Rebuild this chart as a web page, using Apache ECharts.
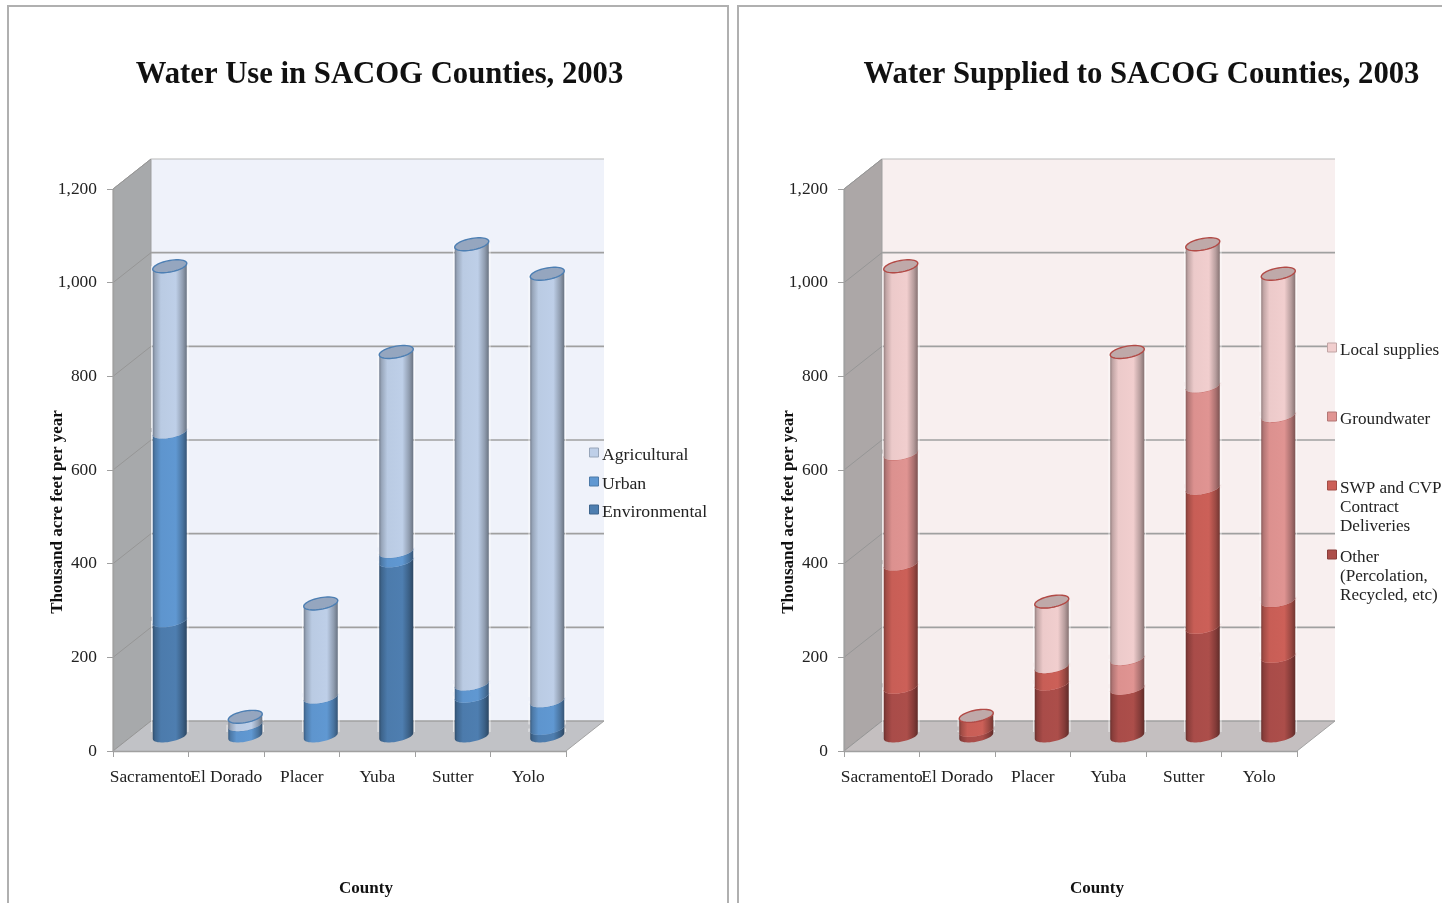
<!DOCTYPE html>
<html>
<head>
<meta charset="utf-8">
<style>html,body{margin:0;padding:0;background:#fff}#chart{width:1442px;height:903px}</style>
<script src="https://cdn.jsdelivr.net/npm/echarts@6/dist/echarts.min.js"></script>
</head>
<body>
<div id="chart"></div>
<script>
// County names and value axis ticks, in thousand acre feet per year
const counties = ['Sacramento', 'El Dorado', 'Placer', 'Yuba', 'Sutter', 'Yolo'];
const yTicks = [0, 200, 400, 600, 800, 1000, 1200];

// Water use by sector
const environmental = [246, 0, 0, 374, 85, 16];
const urban = [403, 24, 83, 20, 26, 59];
const agricultural = [354, 17, 200, 426, 939, 912];

// Water supply by source
const other = [104, 12, 111, 102, 232, 170];
const swpCvp = [263, 31, 37, 0, 297, 119];
const groundwater = [236, 0, 0, 63, 218, 395];
const localSupplies = [400, 0, 139, 655, 303, 303];

const useStack = [
  { name: 'Environmental', values: environmental, color: [78, 126, 176] },
  { name: 'Urban', values: urban, color: [96, 152, 210] },
  { name: 'Agricultural', values: agricultural, color: [190, 207, 232] }
];
const supplyStack = [
  { name: 'Other (Percolation, Recycled, etc)', values: other, color: [172, 78, 74] },
  { name: 'SWP and CVP Contract Deliveries', values: swpCvp, color: [204, 96, 88] },
  { name: 'Groundwater', values: groundwater, color: [224, 148, 146] },
  { name: 'Local supplies', values: localSupplies, color: [241, 206, 206] }
];

const SERIF = '"Liberation Serif", "DejaVu Serif", serif';
const DEPTH_X = 38, DEPTH_Y = 30;       // oblique offset of the back wall
const RX = 17, RY = 5.8, TILT = 0.17;   // cylinder ellipse shape

const shade = (c, f) => `rgb(${c.map(v => Math.round(v * f)).join(',')})`;

// Back wall, side wall, floor and the gridlines that wrap around them
function frameRenderer(wallColor, floorColor, sideColor) {
  return function (params, api) {
    const cs = params.coordSys;
    const v = api.value(1);
    const y = api.coord([0, v])[1];
    const x0 = cs.x, x1 = cs.x + cs.width;
    const bottom = cs.y + cs.height, top = cs.y;
    const isTopTick = v === yTicks[yTicks.length - 1];
    const children = [];
    if (params.dataIndex === 0) {
      children.push({ type: 'polygon', shape: { points: [[x0 + DEPTH_X, top - DEPTH_Y], [x1 + DEPTH_X, top - DEPTH_Y], [x1 + DEPTH_X, bottom - DEPTH_Y], [x0 + DEPTH_X, bottom - DEPTH_Y]] }, style: { fill: wallColor } });
      children.push({ type: 'polygon', shape: { points: [[x0, top], [x0 + DEPTH_X, top - DEPTH_Y], [x0 + DEPTH_X, bottom - DEPTH_Y], [x0, bottom]] }, style: { fill: sideColor, stroke: '#9f9f9f', lineWidth: 1 } });
      children.push({ type: 'polygon', shape: { points: [[x0, bottom], [x0 + DEPTH_X, bottom - DEPTH_Y], [x1 + DEPTH_X, bottom - DEPTH_Y], [x1, bottom]] }, style: { fill: floorColor } });
    }
    children.push({ type: 'line', shape: { x1: x0, y1: y, x2: x0 + DEPTH_X, y2: y - DEPTH_Y }, style: { stroke: '#969696', lineWidth: 1 } });
    children.push({ type: 'line', shape: { x1: x0 + DEPTH_X, y1: y - DEPTH_Y, x2: x1 + DEPTH_X, y2: y - DEPTH_Y }, style: { stroke: isTopTick ? '#b9b9b9' : '#a0a0a0', lineWidth: isTopTick ? 1 : 1.6 } });
    if (v === 0) {
      children.push({ type: 'line', shape: { x1: x1, y1: y, x2: x1 + DEPTH_X, y2: y - DEPTH_Y }, style: { stroke: '#a3a3a3', lineWidth: 1 } });
    }
    return { type: 'group', children };
  };
}

// A stacked segment of a cylinder standing mid-depth on the floor
function cylinderRenderer(color, capFill, edge) {
  const gradient = {
    type: 'linear', x: 0, y: 0, x2: 1, y2: 0,
    colorStops: [
      { offset: 0, color: shade(color, 0.62) },
      { offset: 0.07, color: shade(color, 0.8) },
      { offset: 0.24, color: shade(color, 0.98) },
      { offset: 0.68, color: shade(color, 1) },
      { offset: 0.88, color: shade(color, 0.76) },
      { offset: 1, color: shade(color, 0.56) }
    ]
  };
  const arc = (cx, cy, from, to, n) => {
    const pts = [];
    for (let i = 0; i <= n; i++) {
      const t = from + (to - from) * i / n;
      const dx = RX * Math.cos(t);
      pts.push([cx + dx, cy + RY * Math.sin(t) - TILT * dx]);
    }
    return pts;
  };
  return function (params, api) {
    const idx = api.value(0);
    const base = api.coord([idx, api.value(1)]);
    const head = api.coord([idx, api.value(2)]);
    const cx = base[0] + DEPTH_X / 2;
    const yb = base[1] - DEPTH_Y / 2, yt = head[1] - DEPTH_Y / 2;
    const body = arc(cx, yt, Math.PI, 0, 24).concat(arc(cx, yb, 0, Math.PI, 24));
    const halo = { stroke: 'rgba(255,255,255,0.6)', lineWidth: 1.2 };
    const haloFoot = Math.max(yb - 4, yt);
    const children = [
      { type: 'line', shape: { x1: cx - RX - 1.2, y1: haloFoot, x2: cx - RX - 1.2, y2: yt }, style: halo },
      { type: 'line', shape: { x1: cx + RX + 1.2, y1: haloFoot, x2: cx + RX + 1.2, y2: yt }, style: halo },
      { type: 'polygon', shape: { points: body }, style: { fill: gradient } },
      { type: 'polyline', shape: { points: arc(cx, yt, Math.PI, 0, 24) }, style: { fill: 'none', stroke: edge, lineWidth: 0.8, opacity: 0.6 } }
    ];
    if (api.value(3)) {
      children.push({ type: 'polygon', shape: { points: arc(cx, yt, 0, Math.PI * 2, 48) }, style: { fill: capFill, stroke: edge, lineWidth: 1.4 } });
    }
    return { type: 'group', children };
  };
}

// Turns one stack of value arrays into [category, start, end, isTopSegment] rows
function stackRows(stack) {
  return stack.map((layer, li) => layer.values.map((val, ci) => {
    const start = stack.slice(0, li).reduce((s, l) => s + l.values[ci], 0);
    const isTop = stack.slice(li + 1).every(l => l.values[ci] === 0);
    return [ci, start, start + val, isTop && val > 0 ? 1 : 0];
  }).filter(row => row[2] > row[1]));
}

const labelFont = { fontFamily: SERIF, color: '#222' };

function axisPair(gridIndex) {
  return {
    x: {
      type: 'category', gridIndex, data: counties, z: 3,
      axisLine: { lineStyle: { color: '#a0a0a0', width: 1.4 } },
      axisTick: { show: true, alignWithLabel: false, length: 6, lineStyle: { color: '#a0a0a0' } },
      axisLabel: Object.assign({ fontSize: 17.4, margin: 18, interval: 0, hideOverlap: false }, labelFont)
    },
    y: {
      type: 'value', gridIndex, min: 0, max: 1200, interval: 200, z: 3,
      splitLine: { show: false },
      axisLine: { show: true, lineStyle: { color: '#a0a0a0', width: 1.4 } },
      axisTick: { show: true, length: 6, lineStyle: { color: '#a0a0a0' } },
      axisLabel: Object.assign({ fontSize: 17.4, margin: 16, padding: [6, 0, 0, 0], formatter: v => v.toLocaleString('en-US') }, labelFont)
    }
  };
}

const panels = [
  { left: 113, title: 'Water Use in SACOG Counties, 2003', titleX: 374.5, stack: useStack, wall: '#eff2fa', floor: '#c1c2c6', side: '#a7a9ab', cap: '#95a6bf', edge: '#4d7fb3' },
  { left: 844, title: 'Water Supplied to SACOG Counties, 2003', titleX: 1136.5, stack: supplyStack, wall: '#f8efef', floor: '#c4bfc0', side: '#aca7a7', cap: '#bfa9a9', edge: '#b24a46' }
];

const series = [];
panels.forEach((p, i) => {
  series.push({
    type: 'custom', name: 'frame' + i, xAxisIndex: i, yAxisIndex: i, z: 1, silent: true, clip: false,
    data: yTicks.map(v => [0, v]), encode: { x: 0, y: 1 },
    renderItem: frameRenderer(p.wall, p.floor, p.side)
  });
  const rows = stackRows(p.stack);
  p.stack.forEach((layer, li) => {
    series.push({
      type: 'custom', name: layer.name, xAxisIndex: i, yAxisIndex: i, z: 4, silent: true, clip: false,
      data: rows[li], encode: { x: 0, y: [1, 2] },
      renderItem: cylinderRenderer(layer.color, p.cap, p.edge)
    });
  });
});

// Legend rows: swatch colour comes from the stack, wrapped text per line
const useLegend = [
  { layer: useStack[2], lines: ['Agricultural'], y: 454 },
  { layer: useStack[1], lines: ['Urban'], y: 483 },
  { layer: useStack[0], lines: ['Environmental'], y: 511 }
];
const supplyLegend = [
  { layer: supplyStack[3], lines: ['Local supplies'], y: 349 },
  { layer: supplyStack[2], lines: ['Groundwater'], y: 418 },
  { layer: supplyStack[1], lines: ['SWP and CVP', 'Contract', 'Deliveries'], y: 487 },
  { layer: supplyStack[0], lines: ['Other', '(Percolation,', 'Recycled, etc)'], y: 556 }
];

function legendGraphics(items, boxX, textX, fontSize) {
  const out = [];
  items.forEach(it => {
    out.push({ type: 'rect', z: 10, shape: { x: boxX, y: it.y - 6, width: 9, height: 9 }, style: { fill: shade(it.layer.color, 1), stroke: shade(it.layer.color, 0.8), lineWidth: 1 } });
    it.lines.forEach((line, k) => {
      out.push({ type: 'text', z: 10, x: textX, y: it.y + 1.5 + k * 19, style: { text: line, font: fontSize + 'px ' + SERIF, fill: '#222', textVerticalAlign: 'middle' } });
    });
  });
  return out;
}

const axisCaption = (text, x, y, rotation) => ({
  type: 'text', z: 10, x, y, rotation: rotation || 0,
  style: { text, font: 'bold 17px ' + SERIF, fill: '#111', textAlign: 'center', textVerticalAlign: 'middle' }
});

const graphics = [
  { type: 'polyline', z: 0, shape: { points: [[8, 903], [8, 6], [728, 6], [728, 903]] }, style: { fill: 'none', stroke: '#b0b0b0', lineWidth: 2 } },
  { type: 'polyline', z: 0, shape: { points: [[738, 903], [738, 6], [1442, 6]] }, style: { fill: 'none', stroke: '#b0b0b0', lineWidth: 2 } },
  axisCaption('Thousand acre feet per year', 57.5, 512, Math.PI / 2),
  axisCaption('Thousand acre feet per year', 788.5, 512, Math.PI / 2),
  axisCaption('County', 366, 888.5),
  axisCaption('County', 1097, 888.5)
].concat(legendGraphics(useLegend, 589.5, 602, 17.7), legendGraphics(supplyLegend, 1327.5, 1340, 17.1));

const axes = panels.map((p, i) => axisPair(i));
const option = {
  animation: false,
  backgroundColor: '#fff',
  title: panels.map(p => ({
    text: p.title, left: p.titleX, top: 55, textAlign: 'center',
    textStyle: { fontFamily: SERIF, fontWeight: 'bold', fontSize: 30.7, color: '#111' }
  })),
  grid: panels.map(p => ({ left: p.left, top: 189, width: 453, height: 562 })),
  xAxis: axes.map(a => a.x),
  yAxis: axes.map(a => a.y),
  graphic: { elements: graphics },
  series
};

echarts.init(document.getElementById('chart'), null, { renderer: 'canvas' }).setOption(option);
</script>
</body>
</html>
